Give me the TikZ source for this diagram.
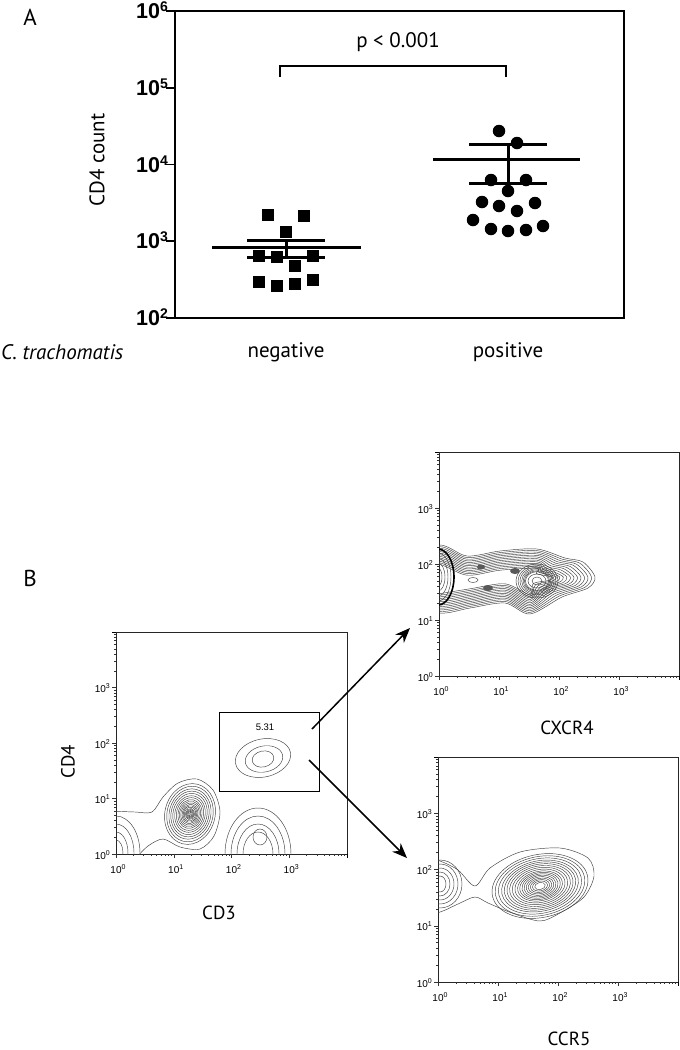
\documentclass[tikz,border=0pt]{standalone}
\usepackage{fontspec}
\setmainfont{PT Sans}
\newfontfamily\arial{Liberation Sans}
\usetikzlibrary{arrows.meta}

\newcommand\bigtick[1]{\fontsize{21.5}{21.5}\selectfont\bfseries\arial 10\raisebox{7pt}{\fontsize{14}{14}\selectfont #1}}
\newcommand\smalltick[1]{\fontsize{10}{10}\selectfont\arial 10\raisebox{4pt}{\fontsize{7}{7}\selectfont #1}}

% name, x0, y0(top), w, h
\newcommand\flowframe[5]{%
  \node[draw=black!85, line width=0.7pt, anchor=north west, inner sep=0pt, outer sep=0pt,
        minimum width=#4pt, minimum height=#5pt] (#1) at (#2,#3) {};
  \foreach \d in {0,...,3}{\foreach \m in {1,...,9}{%
     \pgfmathsetmacro\fy{#3+#5-(\d+ln(\m)/ln(10))*#5/4}%
     \pgfmathsetmacro\fx{#2+(\d+ln(\m)/ln(10))*#4/4}%
     \pgfmathsetmacro\tl{ifthenelse(\m==1,4,2)}%
     \draw[line width=0.4pt, black!80] (#2,\fy) -- ++(-\tl,0);
     \draw[line width=0.4pt, black!80] (\fx,#3+#5) -- ++(0,\tl);
  }}
  \draw[line width=0.4pt] (#2,#3) -- ++(-4,0);
  \draw[line width=0.4pt] (#2+#4,#3+#5) -- ++(0,4);
  \foreach \d in {0,...,3}{%
     \node[anchor=base east, inner sep=0pt] (#1y\d) at (#2-6, #3+#5-\d*#5/4+5) {\smalltick{\d}};
     \node[anchor=base, inner sep=0pt] (#1x\d) at (#2+\d*#4/4+2, #3+#5+19) {\smalltick{\d}};
  }%
}

\begin{document}
\begin{tikzpicture}[x=1pt,y=-1pt,
  axisline/.style={line width=1.6pt},
  barline/.style={line width=3pt},
  sq/.style={fill=black, minimum size=12pt, inner sep=0pt},
  dot/.style={circle, fill=black, minimum size=12.5pt, inner sep=0pt},
  cont/.style={draw=black!75, line width=0.45pt},
  arrowline/.style={line width=1.5pt, -{Stealth[length=15pt,width=12pt]}},
  big/.style={font=\fontsize{21}{21}\selectfont},
  mid/.style={font=\fontsize{19}{19}\selectfont}]
\fill[white] (0,0) rectangle (680,1050);
\useasboundingbox (0,0) rectangle (680,1050);

% ---------------- Panel A ----------------
\node[font=\fontsize{23}{23}\selectfont] (labA) at (30,17) {A};
\node[draw, line width=1.6pt, anchor=north west, inner sep=0pt, outer sep=0pt,
      minimum width=449pt, minimum height=307pt] (plotA) at (175,11) {};
\foreach \k/\y in {6/11,5/87.75,4/164.5,3/241.25,2/318}{
  \draw[axisline] (166,\y) -- (175,\y);
  \node[anchor=base east, inner sep=0pt] (ty\k) at (168,\y+7.5) {\bigtick{\k}};
}
\node[big, rotate=90] (ylabA) at (97,160) {CD4 count};

% points
\foreach \p [count=\i] in {(268,215),(304,216),(286,232),(259,256),(277,257),(313,256),
   (295,266),(259,282),(277,286),(295,284),(313,280)}
  \node[sq] (s\i) at \p {};
\foreach \p [count=\i] in {(499,131),(517,143),(491,180),(526,180),(508,191),(482,202),
   (499,206),(517,211),(535,203),(473,220),(491,229),(508,231),(526,230),(543,226)}
  \node[dot] (c\i) at \p {};
% mean and SEM
\draw[barline] (212,247) -- (361,247);
\draw[barline] (247,240) -- (325,240);
\draw[barline] (247,257) -- (325,257);
\draw[barline] (286,240) -- (286,257);
\draw[barline] (433,159) -- (580,159);
\draw[barline] (469,144) -- (547,144);
\draw[barline] (469,183) -- (547,183);
\draw[barline] (508,144) -- (508,183);
% bracket
\draw[line width=1.2pt] (280,77) -- (280,66) -- (506,66) -- (506,77);
\node[big] (pval) at (398,42) {p < 0.001};
% group labels
\node[big, anchor=west, inner sep=0pt] (ct) at (1,352) {\itshape C. trachomatis};
\node[big] (neg) at (286,352) {negative};
\node[big] (pos) at (508,352) {positive};

% ---------------- Panel B ----------------
\node[font=\fontsize{23}{23}\selectfont] (labB) at (30,578) {B};

\flowframe{cdplot}{116}{632}{231}{222}
\flowframe{cxplot}{439}{452}{240}{224}
\flowframe{ccplot}{438}{757}{240}{225}

% CD3 / CD4 contours
\begin{scope}
\clip (116,632) rectangle (347,854);
\foreach \r/\q in {24/37,18/29,12/21,7/13}
  \draw[cont] (116,853) ellipse[x radius=\r pt, y radius=\q pt];
\draw[cont] plot[smooth] coordinates {(110,811) (135,812) (152,812) (163,797) (178,783)
   (197,779) (213,790) (220,812) (214,836) (200,849) (180,847) (163,839) (148,846) (136,858)};
\foreach \s in {0.93,0.85,0.77,0.7,0.63,0.56,0.5,0.44,0.39,0.34,0.29,0.25,0.21,0.17,0.14,0.11,0.08,0.05}
  \draw[cont, rotate around={-14:(190,814)}] (190,814) ellipse[x radius=\s*27pt, y radius=\s*33pt];
\foreach \r/\q in {33/46,27/38,21/30,15/22}
  \draw[cont] (258,854) ellipse[x radius=\r pt, y radius=\q pt];
\draw[cont] (260,837) ellipse[x radius=7pt, y radius=8pt];
\end{scope}

% gate
\node[draw, line width=0.8pt, anchor=north west, inner sep=0pt, outer sep=0pt,
      minimum width=100pt, minimum height=79pt] (gate) at (219,712) {};
\node[font=\arial\fontsize{9.5}{9.5}\selectfont] (gatepct) at (265,727) {5.31};
\draw[cont, rotate around={12:(263,758)}] (263,758) ellipse[x radius=28pt, y radius=19pt];
\draw[cont, rotate around={12:(264,759)}] (264,759) ellipse[x radius=19pt, y radius=13pt];
\draw[cont, rotate around={12:(263,759)}] (263,759) ellipse[x radius=11pt, y radius=8pt];

% CXCR4 contours
\begin{scope}
\clip (439,452) rectangle (679,676);
\foreach \o in {0,1.6,...,20}{
  \draw[cont, shift={(420,580)}] plot[smooth cycle] coordinates {
    (19,-35+\o) (47,-24+\o) (80,-29+\o) (117,-31+\o) (145-1.5*\o,-22+0.8*\o) (163-2*\o,-18+0.7*\o)
    (175-2.2*\o,-3) (168-2*\o,8-0.4*\o) (142-1.5*\o,17-0.7*\o)
    (110,34-\o) (85,23-\o) (50,28-\o) (19,33-\o) (-20,20) (-20,-20)};
}
\foreach \s in {1,0.9,0.81,0.73,0.66,0.6,0.55}
  \draw[cont] (537,581) ellipse[x radius=\s*21pt, y radius=\s*17pt];
\draw[cont] (537,581) ellipse[x radius=9pt, y radius=7pt];
\draw[cont] (537,581) ellipse[x radius=5pt, y radius=4pt];
\draw[line width=1.6pt] (438,577) ellipse[x radius=16pt, y radius=28pt];
\foreach \r/\q in {13/24,10/19,7/14,4/9}
  \draw[cont] (438,577) ellipse[x radius=\r pt, y radius=\q pt];
\fill[black!65] (488,588) ellipse[x radius=5pt, y radius=3pt];
\fill[black!65] (515,571) ellipse[x radius=5pt, y radius=3pt];
\fill[black!65] (481,567) ellipse[x radius=4pt, y radius=2.5pt];
\draw[cont] (473,580) ellipse[x radius=5pt, y radius=2.5pt];
\end{scope}

% CCR5 contours
\begin{scope}
\clip (438,757) rectangle (678,982);
\draw[cont] plot[smooth cycle] coordinates {(425,858) (440,861) (458,870) (475,886) (490,868)
   (520,852) (560,848) (588,858) (594,876) (584,897) (560,913) (540,921) (512,913) (488,903)
   (475,897) (458,904) (440,912) (425,912)};
\foreach \r/\q in {22/24,18/20,14/16,10/12,6/8}
  \draw[cont] (440,884) ellipse[x radius=\r pt, y radius=\q pt];
\foreach \s in {0.9,0.84,0.78,0.72,0.67,0.62,0.57,0.52,0.47,0.42,0.38,0.34,0.3,0.26,0.22,0.18,0.14,0.1}
  \draw[cont, rotate around={12:(540,886)}] (540,886) ellipse[x radius=\s*54pt, y radius=\s*35pt];
\end{scope}

% axis titles
\node[mid, rotate=90] (cd4) at (68,762) {CD4};
\node[mid] (cd3) at (219,913) {CD3};
\node[mid] (cxcr4) at (567,728) {CXCR4};
\node[mid] (ccr5) at (569,1039) {CCR5};

% arrows
\coordinate (a1s) at (312,729);
\coordinate (a1e) at (410,628);
\coordinate (a2s) at (309,760);
\coordinate (a2e) at (407,858);
\draw[arrowline] (a1s) -- (a1e);
\draw[arrowline] (a2s) -- (a2e);
\end{tikzpicture}
\end{document}
